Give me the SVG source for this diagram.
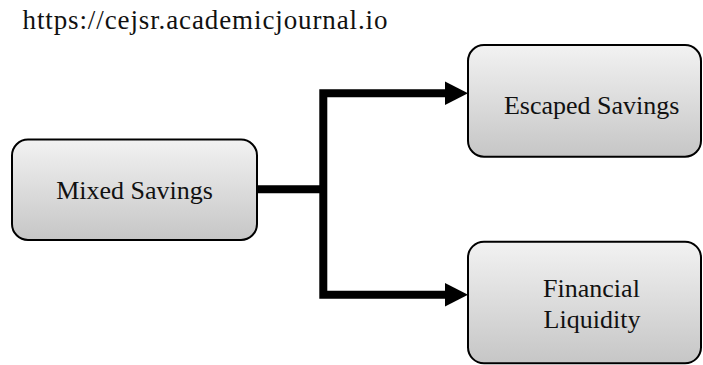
<svg xmlns="http://www.w3.org/2000/svg" width="703" height="365" viewBox="0 0 703 365">
<style>
.box{stroke:#000;stroke-width:2;fill:url(#g)}
.t{font-size:26px;fill:#111;text-anchor:middle}
.c{stroke:#000;stroke-width:8;fill:none}
</style>
<defs>
<linearGradient id="g" x1="0" y1="0" x2="0" y2="1">
<stop offset="0" stop-color="#f2f2f2"/>
<stop offset="1" stop-color="#c6c6c6"/>
</linearGradient>
</defs>
<rect width="703" height="365" fill="#fff"/>
<text x="22.5" y="28.5" font-family="Liberation Serif, serif" font-size="27" fill="#111" textLength="365" lengthAdjust="spacing">https://cejsr.academicjournal.io</text>
<g id="connectors">
<path class="c" d="M257 189.3H323.3M323.3 89.3V298.7M319.3 93.3H447M319.3 294.7H447"/>
<polygon points="445,81.5 468,93.3 445,105" fill="#000"/>
<polygon points="445,283 468,294.7 445,306.5" fill="#000"/>
</g>
<g id="mixed-savings">
<rect class="box" x="12" y="139.5" width="245" height="100.5" rx="16"/>
<text class="t" font-family="Liberation Serif, serif" x="134.5" y="199.3">Mixed Savings</text>
</g>
<g id="escaped-savings">
<rect class="box" x="468" y="45" width="233" height="111.7" rx="16"/>
<text class="t" font-family="Liberation Serif, serif" x="591.7" y="114.3">Escaped Savings</text>
</g>
<g id="financial-liquidity">
<rect class="box" x="468" y="241.7" width="233" height="121.6" rx="16"/>
<text class="t" font-family="Liberation Serif, serif" x="591.5" y="297.3">Financial</text>
<text class="t" font-family="Liberation Serif, serif" x="592" y="328.3">Liquidity</text>
</g>
</svg>
